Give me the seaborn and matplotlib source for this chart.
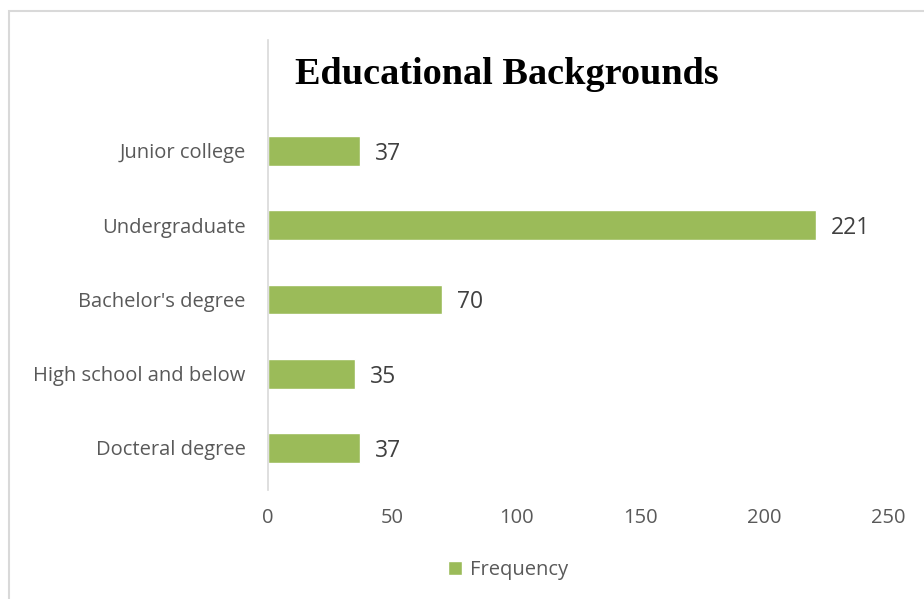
import matplotlib
matplotlib.use("Agg")
import matplotlib.pyplot as plt
import seaborn as sns
import pandas as pd
from matplotlib.patches import Rectangle

# data, top to bottom
levels = ["Junior college", "Undergraduate", "Bachelor's degree",
          "High school and below", "Docteral degree"]
freq = [37, 221, 70, 35, 37]
xticks = [0, 50, 100, 150, 200, 250]

d = pd.DataFrame({"level": levels, "freq": freq})

green = "#9BBB59"
grey = "#595959"

sns.set_style("white")
plt.rcParams["font.family"] = ["Open Sans", "DejaVu Sans"]

fig = plt.figure(figsize=(9.24, 5.99), dpi=100)
ax = fig.add_axes([268 / 924, 109 / 599, 620 / 924, 450 / 599])

sns.barplot(data=d, x="freq", y="level", orient="h", color=green,
            width=0.4, saturation=1, ax=ax)

ax.set_xlim(0, 250)
ax.set_ylim(4.566, -1.495)
ax.set_xticks(xticks)
ax.set_xlabel("")
ax.set_ylabel("")
ax.tick_params(axis="both", length=0, labelsize=14.5, colors=grey)
ax.tick_params(axis="x", pad=13)
ax.tick_params(axis="y", pad=16)
for s in ["top", "right", "bottom"]:
    ax.spines[s].set_visible(False)
ax.spines["left"].set_color("#d9d9d9")
ax.spines["left"].set_linewidth(1.2)

labels = ax.bar_label(ax.containers[0], padding=11, fontsize=16.5,
                      color="#404040")
for t in labels:
    t.set_va("center_baseline")

fig.text(507 / 924, 1 - 74 / 599, "Educational Backgrounds",
         ha="center", va="center", fontsize=27.5, fontweight="bold",
         family="Liberation Serif", color="black")

leg = fig.legend(handles=[ax.containers[0][0]], labels=["Frequency"],
                 loc="center", bbox_to_anchor=(508 / 924, 1 - 570 / 599),
                 frameon=False, fontsize=14.5, handlelength=0.7,
                 handleheight=0.7, handletextpad=0.4)
for t in leg.get_texts():
    t.set_color(grey)

# chart frame
fig.patches.append(Rectangle((9 / 924, -0.1), 1.2, 1 - 11 / 599 + 0.1,
                             transform=fig.transFigure, fill=False,
                             edgecolor="#d9d9d9", linewidth=1.5))

fig.savefig("out.png", dpi=100)
